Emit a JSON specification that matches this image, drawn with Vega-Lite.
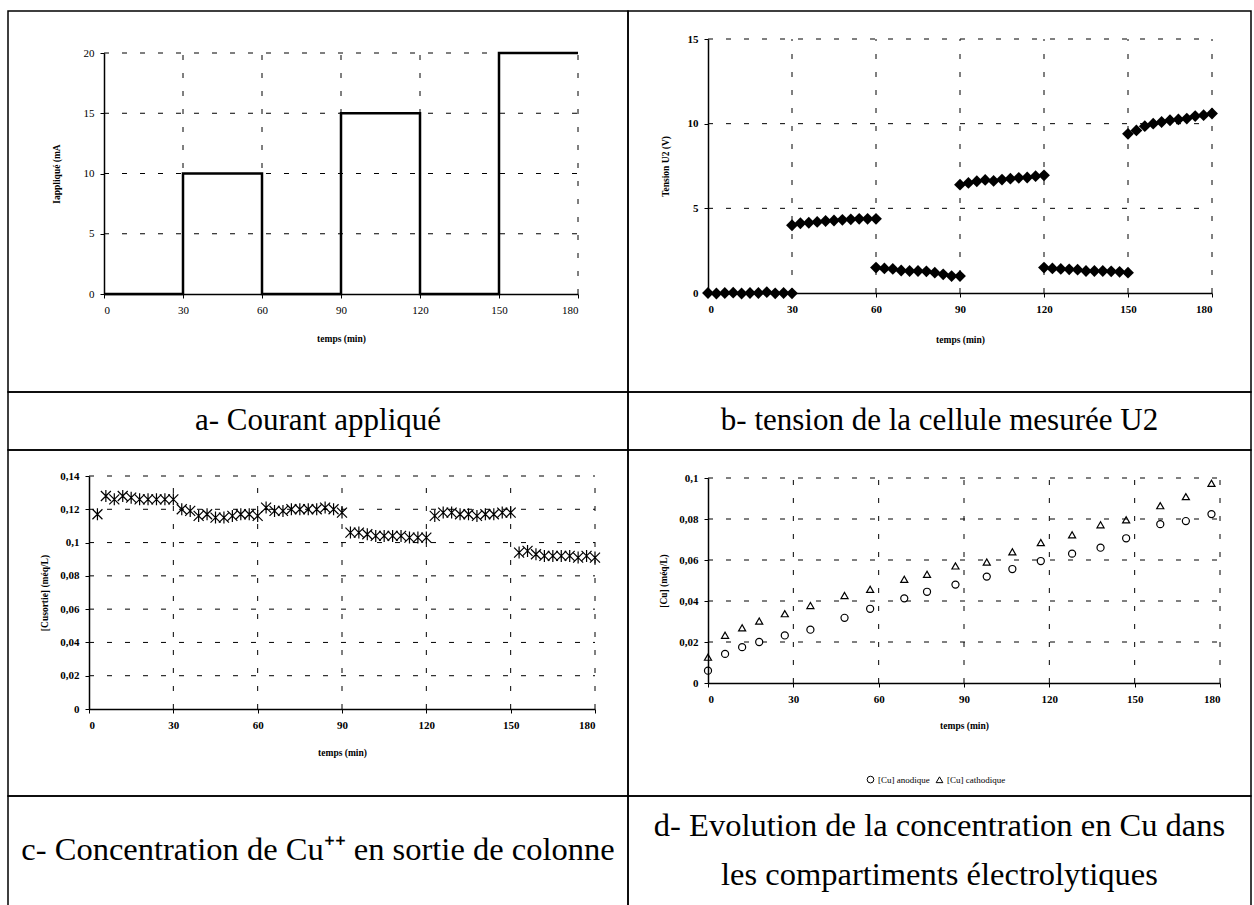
{
  "$schema": "https://vega.github.io/schema/vega-lite/v6.json",
  "padding": {"left": 7, "top": 10, "right": 0, "bottom": 0},
  "background": "white",
  "columns": 2,
  "spacing": 0,
  "bounds": "flush",
  "align": "each",
  "config": {
    "view": {"stroke": "black", "strokeWidth": 1.5},
    "font": "Liberation Serif",
    "axis": {
      "labelFont": "Liberation Serif", "labelFontSize": 11, "labelFontWeight": "bold", "labelColor": "black",
      "titleFont": "Liberation Serif", "titleFontSize": 9.5, "titleFontWeight": "bold", "titleColor": "black",
      "domainColor": "black", "domainWidth": 1.5, "tickColor": "black", "tickSize": 4, "tickWidth": 1,
      "grid": false, "labelPadding": 6, "titlePadding": 10
    },
    "rule": {"color": "black", "strokeDash": [5, 13], "strokeWidth": 1},
    "legend": {"labelFont": "Liberation Serif", "labelFontSize": 9, "labelColor": "black"}
  },
  "datasets": {
    "gx": [{"v": 30}, {"v": 60}, {"v": 90}, {"v": 120}, {"v": 150}, {"v": 180}],
    "gyA": [{"v": 5}, {"v": 10}, {"v": 15}, {"v": 20}],
    "gyB": [{"v": 5}, {"v": 10}, {"v": 15}],
    "gyC": [{"v": 0.02}, {"v": 0.04}, {"v": 0.06}, {"v": 0.08}, {"v": 0.1}, {"v": 0.12}, {"v": 0.14}],
    "gyD": [{"v": 0.02}, {"v": 0.04}, {"v": 0.06}, {"v": 0.08}, {"v": 0.1}],
    "courant": [
      {"temps": 0, "courant": 0}, {"temps": 30, "courant": 10}, {"temps": 60, "courant": 0},
      {"temps": 90, "courant": 15}, {"temps": 120, "courant": 0}, {"temps": 150, "courant": 20},
      {"temps": 180, "courant": 20}
    ],
    "tension": [
      {"temps": 0, "u": 0}, {"temps": 3, "u": -0.03}, {"temps": 6, "u": 0}, {"temps": 9, "u": 0.02}, {"temps": 12, "u": -0.03},
      {"temps": 15, "u": 0}, {"temps": 18, "u": 0}, {"temps": 21, "u": 0.05}, {"temps": 24, "u": -0.02}, {"temps": 27, "u": 0}, {"temps": 30, "u": -0.02},
      {"temps": 30, "u": 4.0}, {"temps": 33, "u": 4.12}, {"temps": 36, "u": 4.15}, {"temps": 39, "u": 4.2}, {"temps": 42, "u": 4.25},
      {"temps": 45, "u": 4.28}, {"temps": 48, "u": 4.32}, {"temps": 51, "u": 4.35}, {"temps": 54, "u": 4.38}, {"temps": 57, "u": 4.38}, {"temps": 60, "u": 4.38},
      {"temps": 60, "u": 1.5}, {"temps": 63, "u": 1.45}, {"temps": 66, "u": 1.42}, {"temps": 69, "u": 1.33}, {"temps": 72, "u": 1.3},
      {"temps": 75, "u": 1.3}, {"temps": 78, "u": 1.28}, {"temps": 81, "u": 1.2}, {"temps": 84, "u": 1.1}, {"temps": 87, "u": 1.0}, {"temps": 90, "u": 1.0},
      {"temps": 90, "u": 6.4}, {"temps": 93, "u": 6.5}, {"temps": 96, "u": 6.6}, {"temps": 99, "u": 6.68}, {"temps": 102, "u": 6.62},
      {"temps": 105, "u": 6.7}, {"temps": 108, "u": 6.75}, {"temps": 111, "u": 6.8}, {"temps": 114, "u": 6.82}, {"temps": 117, "u": 6.9}, {"temps": 120, "u": 6.95},
      {"temps": 120, "u": 1.5}, {"temps": 123, "u": 1.45}, {"temps": 126, "u": 1.42}, {"temps": 129, "u": 1.4}, {"temps": 132, "u": 1.38},
      {"temps": 135, "u": 1.3}, {"temps": 138, "u": 1.3}, {"temps": 141, "u": 1.3}, {"temps": 144, "u": 1.28}, {"temps": 147, "u": 1.25}, {"temps": 150, "u": 1.2},
      {"temps": 150, "u": 9.4}, {"temps": 153, "u": 9.6}, {"temps": 156, "u": 9.85}, {"temps": 159, "u": 10.0}, {"temps": 162, "u": 10.1},
      {"temps": 165, "u": 10.2}, {"temps": 168, "u": 10.25}, {"temps": 171, "u": 10.3}, {"temps": 174, "u": 10.45}, {"temps": 177, "u": 10.5}, {"temps": 180, "u": 10.6}
    ],
    "sortie": [
      {"temps": 3, "c": 0.117}, {"temps": 6, "c": 0.128}, {"temps": 9, "c": 0.126}, {"temps": 12, "c": 0.128}, {"temps": 15, "c": 0.127},
      {"temps": 18, "c": 0.126}, {"temps": 21, "c": 0.126}, {"temps": 24, "c": 0.126}, {"temps": 27, "c": 0.126}, {"temps": 30, "c": 0.126},
      {"temps": 33, "c": 0.12}, {"temps": 36, "c": 0.119}, {"temps": 39, "c": 0.116}, {"temps": 42, "c": 0.117}, {"temps": 45, "c": 0.115},
      {"temps": 48, "c": 0.115}, {"temps": 51, "c": 0.116}, {"temps": 54, "c": 0.117}, {"temps": 57, "c": 0.117}, {"temps": 60, "c": 0.116},
      {"temps": 63, "c": 0.121}, {"temps": 66, "c": 0.119}, {"temps": 69, "c": 0.119}, {"temps": 72, "c": 0.12}, {"temps": 75, "c": 0.12},
      {"temps": 78, "c": 0.12}, {"temps": 81, "c": 0.12}, {"temps": 84, "c": 0.121}, {"temps": 87, "c": 0.12}, {"temps": 90, "c": 0.118},
      {"temps": 93, "c": 0.106}, {"temps": 96, "c": 0.106}, {"temps": 99, "c": 0.105}, {"temps": 102, "c": 0.104}, {"temps": 105, "c": 0.104},
      {"temps": 108, "c": 0.104}, {"temps": 111, "c": 0.104}, {"temps": 114, "c": 0.103}, {"temps": 117, "c": 0.103}, {"temps": 120, "c": 0.103},
      {"temps": 123, "c": 0.116}, {"temps": 126, "c": 0.118}, {"temps": 129, "c": 0.118}, {"temps": 132, "c": 0.117}, {"temps": 135, "c": 0.117},
      {"temps": 138, "c": 0.116}, {"temps": 141, "c": 0.117}, {"temps": 144, "c": 0.117}, {"temps": 147, "c": 0.118}, {"temps": 150, "c": 0.118},
      {"temps": 153, "c": 0.094}, {"temps": 156, "c": 0.095}, {"temps": 159, "c": 0.093}, {"temps": 162, "c": 0.092}, {"temps": 165, "c": 0.092},
      {"temps": 168, "c": 0.092}, {"temps": 171, "c": 0.092}, {"temps": 174, "c": 0.091}, {"temps": 177, "c": 0.092}, {"temps": 180, "c": 0.091}
    ],
    "compartiments": [
      {"temps": 0, "cu": 0.006, "serie": "[Cu] anodique"}, {"temps": 6, "cu": 0.0142, "serie": "[Cu] anodique"},
      {"temps": 12, "cu": 0.0175, "serie": "[Cu] anodique"}, {"temps": 18, "cu": 0.02, "serie": "[Cu] anodique"},
      {"temps": 27, "cu": 0.0232, "serie": "[Cu] anodique"}, {"temps": 36, "cu": 0.026, "serie": "[Cu] anodique"},
      {"temps": 48, "cu": 0.0318, "serie": "[Cu] anodique"}, {"temps": 57, "cu": 0.0362, "serie": "[Cu] anodique"},
      {"temps": 69, "cu": 0.0413, "serie": "[Cu] anodique"}, {"temps": 77, "cu": 0.0445, "serie": "[Cu] anodique"},
      {"temps": 87, "cu": 0.048, "serie": "[Cu] anodique"}, {"temps": 98, "cu": 0.0519, "serie": "[Cu] anodique"},
      {"temps": 107, "cu": 0.0556, "serie": "[Cu] anodique"}, {"temps": 117, "cu": 0.0595, "serie": "[Cu] anodique"},
      {"temps": 128, "cu": 0.0631, "serie": "[Cu] anodique"}, {"temps": 138, "cu": 0.066, "serie": "[Cu] anodique"},
      {"temps": 147, "cu": 0.0706, "serie": "[Cu] anodique"}, {"temps": 159, "cu": 0.0775, "serie": "[Cu] anodique"},
      {"temps": 168, "cu": 0.079, "serie": "[Cu] anodique"}, {"temps": 177, "cu": 0.0824, "serie": "[Cu] anodique"},
      {"temps": 0, "cu": 0.0126, "serie": "[Cu] cathodique"}, {"temps": 6, "cu": 0.0233, "serie": "[Cu] cathodique"},
      {"temps": 12, "cu": 0.0269, "serie": "[Cu] cathodique"}, {"temps": 18, "cu": 0.0302, "serie": "[Cu] cathodique"},
      {"temps": 27, "cu": 0.0338, "serie": "[Cu] cathodique"}, {"temps": 36, "cu": 0.0378, "serie": "[Cu] cathodique"},
      {"temps": 48, "cu": 0.0427, "serie": "[Cu] cathodique"}, {"temps": 57, "cu": 0.0457, "serie": "[Cu] cathodique"},
      {"temps": 69, "cu": 0.0506, "serie": "[Cu] cathodique"}, {"temps": 77, "cu": 0.053, "serie": "[Cu] cathodique"},
      {"temps": 87, "cu": 0.0571, "serie": "[Cu] cathodique"}, {"temps": 98, "cu": 0.059, "serie": "[Cu] cathodique"},
      {"temps": 107, "cu": 0.064, "serie": "[Cu] cathodique"}, {"temps": 117, "cu": 0.0685, "serie": "[Cu] cathodique"},
      {"temps": 128, "cu": 0.0723, "serie": "[Cu] cathodique"}, {"temps": 138, "cu": 0.0772, "serie": "[Cu] cathodique"},
      {"temps": 147, "cu": 0.0796, "serie": "[Cu] cathodique"}, {"temps": 159, "cu": 0.0865, "serie": "[Cu] cathodique"},
      {"temps": 168, "cu": 0.0909, "serie": "[Cu] cathodique"}, {"temps": 177, "cu": 0.0974, "serie": "[Cu] cathodique"}
    ]
  },
  "concat": [
    {
      "width": 620, "height": 381,
      "layer": [
        {"data": {"name": "gx"}, "mark": {"type": "rule"},
          "encoding": {"x": {"field": "v", "type": "quantitative", "title": "temps (min)"}, "y": {"datum": 0}, "y2": {"datum": 20}}},
        {"data": {"name": "gyA"}, "mark": {"type": "rule"},
          "encoding": {"y": {"field": "v", "type": "quantitative", "title": "Iappliqué (mA"}, "x": {"datum": 0}, "x2": {"datum": 180}}},
        {"data": {"name": "courant"},
          "mark": {"type": "line", "interpolate": "step-after", "color": "black", "strokeWidth": 2.5},
          "encoding": {
            "x": {"field": "temps", "type": "quantitative", "title": "temps (min)",
              "scale": {"domain": [0, 180], "range": [96, 570], "nice": false, "zero": false},
              "axis": {"values": [0, 30, 60, 90, 120, 150, 180], "offset": -98, "labelFontWeight": "normal", "titlePadding": 18}},
            "y": {"field": "courant", "type": "quantitative", "title": "Iappliqué (mA",
              "scale": {"domain": [0, 20], "range": [283, 42], "nice": false},
              "axis": {"values": [0, 5, 10, 15, 20], "offset": -96, "labelFontWeight": "normal", "titlePadding": 22}}
          }}
      ]
    },
    {
      "width": 623, "height": 381,
      "layer": [
        {"data": {"name": "gx"}, "mark": {"type": "rule"},
          "encoding": {"x": {"field": "v", "type": "quantitative", "title": "temps (min)"}, "y": {"datum": 0}, "y2": {"datum": 15}}},
        {"data": {"name": "gyB"}, "mark": {"type": "rule"},
          "encoding": {"y": {"field": "v", "type": "quantitative", "title": "Tension U2 (V)"}, "x": {"datum": 0}, "x2": {"datum": 180}}},
        {"data": {"name": "tension"},
          "mark": {"type": "point", "shape": "diamond", "filled": true, "color": "black", "size": 140, "opacity": 1},
          "encoding": {
            "x": {"field": "temps", "type": "quantitative", "title": "temps (min)",
              "scale": {"domain": [0, 180], "range": [80, 584], "nice": false, "zero": false},
              "axis": {"values": [0, 30, 60, 90, 120, 150, 180], "offset": -99, "titlePadding": 20}},
            "y": {"field": "u", "type": "quantitative", "title": "Tension U2 (V)",
              "scale": {"domain": [0, 15], "range": [282, 28], "nice": false},
              "axis": {"values": [0, 5, 10, 15], "offset": -80, "titlePadding": 17}}
          }}
      ]
    },
    {
      "width": 620, "height": 58,
      "data": {"values": [{"txt": "a- Courant appliqué", "pos": 1}]},
      "mark": {"type": "text", "font": "Liberation Serif", "fontSize": 31, "color": "black", "baseline": "middle", "align": "center"},
      "encoding": {
        "text": {"field": "txt"},
        "x": {"field": "pos", "type": "quantitative", "scale": {"domain": [0, 2]}, "axis": null},
        "y": {"field": "pos", "type": "quantitative", "scale": {"domain": [0, 2]}, "axis": null}
      }
    },
    {
      "width": 623, "height": 58,
      "data": {"values": [{"txt": "b- tension de la cellule mesurée U2", "pos": 1}]},
      "mark": {"type": "text", "font": "Liberation Serif", "fontSize": 31, "color": "black", "baseline": "middle", "align": "center"},
      "encoding": {
        "text": {"field": "txt"},
        "x": {"field": "pos", "type": "quantitative", "scale": {"domain": [0, 2]}, "axis": null},
        "y": {"field": "pos", "type": "quantitative", "scale": {"domain": [0, 2]}, "axis": null}
      }
    },
    {
      "width": 620, "height": 346,
      "layer": [
        {"data": {"name": "gx"}, "mark": {"type": "rule"},
          "encoding": {"x": {"field": "v", "type": "quantitative", "title": "temps (min)"}, "y": {"datum": 0}, "y2": {"datum": 0.14}}},
        {"data": {"name": "gyC"}, "mark": {"type": "rule"},
          "encoding": {"y": {"field": "v", "type": "quantitative", "title": "[Cusortie] (méq/L)"}, "x": {"datum": 0}, "x2": {"datum": 180}}},
        {"data": {"name": "sortie"},
          "mark": {"type": "point", "shape": "M-1,-1L1,1M-1,1L1,-1M0,-1.2L0,1.2", "filled": false, "color": "black", "strokeWidth": 1.2, "size": 100, "opacity": 1},
          "encoding": {
            "x": {"field": "temps", "type": "quantitative", "title": "temps (min)",
              "scale": {"domain": [0, 180], "range": [81, 587], "nice": false, "zero": false},
              "axis": {"values": [0, 30, 60, 90, 120, 150, 180], "offset": -87, "titlePadding": 17}},
            "y": {"field": "c", "type": "quantitative", "title": "[Cusortie] (méq/L)",
              "scale": {"domain": [0, 0.14], "range": [259, 26], "nice": false},
              "axis": {"values": [0, 0.02, 0.04, 0.06, 0.08, 0.1, 0.12, 0.14], "format": "~g", "labelExpr": "replace(datum.label, '.', ',')", "offset": -81}}
          }}
      ]
    },
    {
      "width": 623, "height": 346,
      "layer": [
        {"data": {"name": "gx"}, "mark": {"type": "rule"},
          "encoding": {"x": {"field": "v", "type": "quantitative", "title": "temps (min)"}, "y": {"datum": 0}, "y2": {"datum": 0.1}}},
        {"data": {"name": "gyD"}, "mark": {"type": "rule"},
          "encoding": {"y": {"field": "v", "type": "quantitative", "title": "[Cu] (méq/L)"}, "x": {"datum": 0}, "x2": {"datum": 180}}},
        {"data": {"name": "compartiments"},
          "mark": {"type": "point", "filled": false, "color": "black", "strokeWidth": 1.2, "size": 50, "opacity": 1},
          "encoding": {
            "x": {"field": "temps", "type": "quantitative", "title": "temps (min)",
              "scale": {"domain": [0, 180], "range": [80, 592], "nice": false, "zero": false},
              "axis": {"values": [0, 30, 60, 90, 120, 150, 180], "offset": -113, "titlePadding": 16}},
            "y": {"field": "cu", "type": "quantitative", "title": "[Cu] (méq/L)",
              "scale": {"domain": [0, 0.1], "range": [233, 28], "nice": false},
              "axis": {"values": [0, 0.02, 0.04, 0.06, 0.08, 0.1], "format": "~g", "labelExpr": "replace(datum.label, '.', ',')", "offset": -80}},
            "shape": {"field": "serie", "type": "nominal",
              "scale": {"domain": ["[Cu] anodique", "[Cu] cathodique"], "range": ["circle", "triangle-up"]},
              "legend": {"orient": "none", "legendX": 858, "legendY": 764, "direction": "horizontal", "title": null,
                "labelColor": "black", "labelFont": "Liberation Serif", "labelFontSize": 9,
                "symbolSize": 45, "symbolStrokeColor": "black", "symbolFillColor": "white", "symbolStrokeWidth": 1, "columnPadding": 4, "labelOffset": 3}}
          }}
      ]
    },
    {
      "width": 620, "height": 112,
      "data": {"values": [{"txt": "c- Concentration de Cu⁺⁺ en sortie de colonne", "pos": 1}]},
      "mark": {"type": "text", "font": "Liberation Serif", "fontSize": 32.5, "color": "black", "baseline": "middle", "align": "center", "dy": -2},
      "encoding": {
        "text": {"field": "txt"},
        "x": {"field": "pos", "type": "quantitative", "scale": {"domain": [0, 2]}, "axis": null},
        "y": {"field": "pos", "type": "quantitative", "scale": {"domain": [0, 2]}, "axis": null}
      }
    },
    {
      "width": 623, "height": 112,
      "data": {"values": [{"txt": "d- Evolution de la concentration en Cu dans\nles compartiments électrolytiques", "pos": 1}]},
      "mark": {"type": "text", "font": "Liberation Serif", "fontSize": 32.5, "color": "black", "baseline": "middle", "align": "center", "lineBreak": "\n", "lineHeight": 49, "dy": -26},
      "encoding": {
        "text": {"field": "txt"},
        "x": {"field": "pos", "type": "quantitative", "scale": {"domain": [0, 2]}, "axis": null},
        "y": {"field": "pos", "type": "quantitative", "scale": {"domain": [0, 2]}, "axis": null}
      }
    }
  ]
}
